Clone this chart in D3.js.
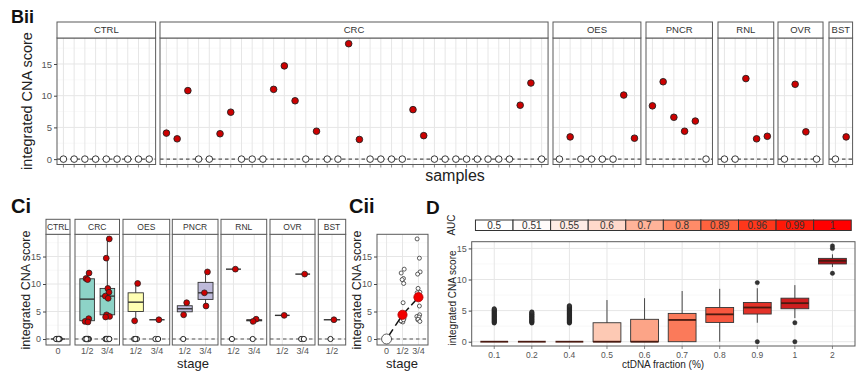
<!DOCTYPE html>
<html lang='en'>
<head>
<meta charset='utf-8'>
<title>integrated CNA score</title>
<script src='https://cdnjs.cloudflare.com/ajax/libs/d3/7.8.5/d3.min.js'></script>
<style>
body { margin:0; background:white; overflow:hidden; }
svg { font-family:'Liberation Sans', Arial, sans-serif; }
</style>
</head>
<body>
<script>
// ---- data: Bii, one score per sample
var cancers = ['CTRL', 'CRC', 'OES', 'PNCR', 'RNL', 'OVR', 'BST'];
var scoreCTRL = [0, 0, 0, 0, 0, 0, 0, 0, 0];
var scoreCRC = [4.1, 3.2, 10.8, 0, 0, 4.0, 7.4, 0, 0, 0, 11.0, 14.7, 9.2, 0, 4.4, 0, 0, 18.2, 3.1, 0, 0, 0, 0, 7.8, 3.7, 0, 0, 0, 0, 0, 0, 0, 0, 8.5, 12.0, 0];
var scoreOES = [0, 3.5, 0, 0, 0, 0, 10.1, 3.3];
var scorePNCR = [8.4, 12.2, 6.6, 4.4, 6.0, 0];
var scoreRNL = [0, 0, 12.7, 3.2, 3.6];
var scoreOVR = [0, 11.8, 4.3, 0];
var scoreBST = [0, 3.5];

// ---- data: Ci, scores split by stage (positive scores, count of zero scores)
var stages = [['0'], ['1/2', '3/4'], ['1/2', '3/4'], ['1/2', '3/4'], ['1/2', '3/4'], ['1/2', '3/4'], ['1/2']];
var posByStage = [
   [[]],
   [[12.0, 11.0, 10.8, 3.7, 3.2, 3.1], [18.2, 14.7, 9.2, 8.5, 7.8, 7.4, 4.4, 4.1, 4.0]],
   [[10.1, 3.3], [3.5]],
   [[6.6, 4.4], [12.2, 8.4, 6.0]],
   [[12.7], [3.6, 3.2]],
   [[4.3], [11.8]],
   [[3.5]]
];
var zerosByStage = [[9], [10, 11], [3, 2], [1, 0], [1, 1], [0, 2], [1]];
var stageFill = ['#d9d9d9', '#8DD3C7', '#FFFFB3', '#BEBADA', '#FB8072', '#80B1D3', '#FDB462'];

// ---- data: Cii
var pooledStages = ['0', '1/2', '3/4'];

// ---- data: D, boxplots by ctDNA fraction
var fractions = ['0.1', '0.2', '0.4', '0.5', '0.6', '0.7', '0.8', '0.9', '1', '2'];
var auc = [0.5, 0.51, 0.55, 0.6, 0.7, 0.8, 0.89, 0.96, 0.99, 1];
var whiskLo = [0, 0, 0, 0, 0, 0, 0, 3.05, 3.8, 12.0];
var boxQ1 = [0, 0, 0, 0, 0, 0, 3.1, 4.45, 5.3, 12.5];
var boxMed = [0, 0, 0, 0, 0, 3.5, 4.4, 5.5, 6.2, 13.0];
var boxQ3 = [0, 0, 0, 3.05, 3.6, 4.55, 5.5, 6.3, 7.0, 13.4];
var whiskHi = [0, 0, 0, 6.7, 7.0, 8.15, 8.5, 8.6, 9.1, 14.05];
var outliers = [
   [3.0, 3.1, 3.2, 3.3, 3.4, 3.5, 3.6, 3.7, 3.8, 3.9, 4.0, 4.1, 4.2, 4.3, 4.4, 4.5, 4.6, 4.7, 4.8, 4.9, 5.0, 5.1, 5.2, 5.3],
   [3.0, 3.1, 3.2, 3.3, 3.4, 3.5, 3.6, 3.7, 3.8, 3.9, 4.0, 4.1, 4.2, 4.3, 4.4, 4.5, 4.6, 4.7, 4.8],
   [3.0, 3.1, 3.2, 3.3, 3.4, 3.5, 3.6, 3.7, 3.8, 3.9, 4.0, 4.1, 4.2, 4.3, 4.4, 4.5, 4.6, 4.7, 4.8, 4.9, 5.0, 5.1, 5.2, 5.3, 5.4, 5.5, 5.6, 5.7, 5.8],
   [], [], [], [],
   [9.5, 0],
   [3.05, 0],
   [15.4, 15.0, 11.0]
];
var boxShade = [0.05, 0.1, 0.15, 0.2, 0.32, 0.45, 0.55, 0.66, 0.74, 0.85];

var yTicks = [0, 5, 10, 15];
var yMinor = [2.5, 7.5, 12.5, 17.5];

var svg = d3.select('body').append('svg').attr('width', 865).attr('height', 388);
svg.append('rect').attr('width', 865).attr('height', 388).attr('fill', 'white');

var EDGE = '#5a5a5a', GRIDMAJ = '#e6e6e6', GRIDMIN = '#f3f3f3', TICKTXT = '#555';

function panelBack(g, x0, x1, y0, y1, y, xs, minorTicks) {
   g.append('rect').attr('x', x0).attr('y', y0).attr('width', x1 - x0).attr('height', y1 - y0).attr('fill', 'white');
   g.selectAll(null).data(minorTicks).enter().append('line')
      .attr('x1', x0).attr('x2', x1).attr('y1', function(d){return y(d);}).attr('y2', function(d){return y(d);})
      .attr('stroke', GRIDMIN).attr('stroke-width', 0.6);
   g.selectAll(null).data(yTicks.filter(function(d){return y(d) > y0;})).enter().append('line')
      .attr('x1', x0).attr('x2', x1).attr('y1', function(d){return y(d);}).attr('y2', function(d){return y(d);})
      .attr('stroke', GRIDMAJ).attr('stroke-width', 1);
   g.selectAll(null).data(xs).enter().append('line')
      .attr('x1', function(d){return d;}).attr('x2', function(d){return d;}).attr('y1', y0).attr('y2', y1)
      .attr('stroke', GRIDMAJ).attr('stroke-width', 1);
}
function dashZero(g, x0, x1, y) {
   g.append('line').attr('x1', x0).attr('x2', x1).attr('y1', y(0)).attr('y2', y(0))
      .attr('stroke', '#555').attr('stroke-width', 1.2).attr('stroke-dasharray', '3.5,3');
}
function border(g, x0, x1, y0, y1) {
   g.append('rect').attr('x', x0).attr('y', y0).attr('width', x1 - x0).attr('height', y1 - y0)
      .attr('fill', 'none').attr('stroke', EDGE).attr('stroke-width', 1);
}
function strip(g, x0, x1, y0, y1, label, size) {
   g.append('rect').attr('x', x0).attr('y', y0).attr('width', x1 - x0).attr('height', y1 - y0)
      .attr('fill', 'white').attr('stroke', EDGE).attr('stroke-width', 1);
   g.append('text').attr('x', (x0 + x1) / 2).attr('y', (y0 + y1) / 2 + size * 0.36)
      .attr('text-anchor', 'middle').attr('font-size', size).attr('fill', '#333').text(label);
}
function yAxis(g, x0, y, size) {
   var ax = g.append('g').attr('transform', 'translate(' + x0 + ',0)')
      .call(d3.axisLeft(y).tickValues(yTicks).tickSize(3).tickPadding(2));
   ax.select('.domain').remove();
   ax.selectAll('line').attr('stroke', '#444');
   ax.selectAll('text').attr('font-size', size).attr('fill', TICKTXT).attr('font-family', null);
}
function vTitle(x, y, txt, size) {
   svg.append('text').attr('transform', 'translate(' + x + ',' + y + ') rotate(-90)')
      .attr('text-anchor', 'middle').attr('font-size', size).attr('fill', '#222').text(txt);
}
function label(x, y, txt, size) {
   svg.append('text').attr('x', x).attr('y', y).attr('font-size', size)
      .attr('font-weight', 'bold').attr('fill', '#111').text(txt);
}

// ================= Bii =================
var bScores = [scoreCTRL, scoreCRC, scoreOES, scorePNCR, scoreRNL, scoreOVR, scoreBST];
var bLeft = [57, 160, 553, 646, 718, 778, 829];
var bStep = 10.72, bStripTop = 22, bTop = 38, bBot = 164.5;
var yB = d3.scaleLinear().domain([-0.85, 19.1]).range([bBot, bTop]);
var gB = svg.append('g');
bScores.forEach(function(vals, i) {
   var x0 = bLeft[i], x1 = x0 + (vals.length + 0.2) * bStep;
   var x = d3.scalePoint().domain(d3.range(vals.length)).range([x0, x1]).padding(0.6);
   var xs = vals.map(function(d, j){return x(j);});
   panelBack(gB, x0, x1, bTop, bBot, yB, xs, yMinor);
   dashZero(gB, x0, x1, yB);
   gB.selectAll(null).data(xs).enter().append('line')
      .attr('x1', function(d){return d;}).attr('x2', function(d){return d;})
      .attr('y1', bBot).attr('y2', bBot + 3).attr('stroke', '#555').attr('stroke-width', 0.7);
   gB.selectAll(null).data(vals).enter().append('circle')
      .attr('cx', function(d, j){return x(j);}).attr('cy', function(d){return yB(d);}).attr('r', 3.3)
      .attr('fill', function(d){return d > 0 ? '#cc0000' : 'white';})
      .attr('stroke', '#222').attr('stroke-width', 0.9);
   border(gB, x0, x1, bTop, bBot);
   strip(gB, x0, x1, bStripTop, bTop, cancers[i], 9.5);
   if (i === 0) yAxis(gB, x0, yB, 9.5);
});
label(11, 23, 'Bii', 18);
vTitle(32, 101, 'integrated CNA score', 14.5);
svg.append('text').attr('x', 455).attr('y', 181).attr('text-anchor', 'middle')
   .attr('font-size', 16).attr('fill', '#222').text('samples');

// ================= Ci =================
var cLeft = [46, 75, 123, 172.3, 221, 270, 318.3];
var cRight = [70, 119.5, 169.7, 218, 266.7, 315, 345.7];
var cStripTop = 219.3, cTop = 234.3, cBot = 345;
var yC = d3.scaleLinear().domain([-1.09, 19.04]).range([cBot, cTop]);
var gC = svg.append('g');
var jit = [-2.2, 1.6, -0.6, 2.4, -1.4, 0.6, 2.0, -2.6, 1.0, -1.0, 2.8];
function boxStats(v) {
   var s = v.slice().sort(d3.ascending);
   return {lo: s[0], q1: d3.quantile(s, 0.25), med: d3.quantile(s, 0.5), q3: d3.quantile(s, 0.75), hi: s[s.length - 1]};
}
function drawBox(g, cx, w, y, st, fill, medColor, medWidth) {
   g.append('line').attr('x1', cx).attr('x2', cx).attr('y1', y(st.lo)).attr('y2', y(st.hi))
      .attr('stroke', '#333').attr('stroke-width', 0.9);
   g.append('rect').attr('x', cx - w / 2).attr('width', w)
      .attr('y', y(st.q3)).attr('height', Math.max(0, y(st.q1) - y(st.q3)))
      .attr('fill', fill).attr('stroke', '#333').attr('stroke-width', 0.9);
   g.append('line').attr('x1', cx - w / 2).attr('x2', cx + w / 2).attr('y1', y(st.med)).attr('y2', y(st.med))
      .attr('stroke', medColor).attr('stroke-width', medWidth);
}
stages.forEach(function(sts, i) {
   var x0 = cLeft[i], x1 = cRight[i];
   var x = d3.scalePoint().domain(sts).range([x0, x1]).padding(0.6);
   var unit = (x1 - x0) / (sts.length + 0.2);
   panelBack(gC, x0, x1, cTop, cBot, yC, sts.map(function(s){return x(s);}), yMinor);
   dashZero(gC, x0, x1, yC);
   sts.forEach(function(s, k) {
      var pos = posByStage[i][k], nz = zerosByStage[i][k];
      var zeros = d3.range(nz).map(function(){return 0;});
      var st = boxStats(pos.length ? pos : zeros);
      drawBox(gC, x(s), unit * 0.72, yC, st, stageFill[i], '#333', 1.4);
      gC.selectAll(null).data(zeros).enter().append('circle')
         .attr('cx', function(d, j){return x(s) + jit[j % jit.length] * 0.7;}).attr('cy', yC(0)).attr('r', 2.6)
         .attr('fill', 'white').attr('stroke', '#222').attr('stroke-width', 1);
      gC.selectAll(null).data(pos).enter().append('circle')
         .attr('cx', function(d, j){return x(s) + jit[(j + 3) % jit.length] * 0.8;}).attr('cy', function(d){return yC(d);}).attr('r', 2.9)
         .attr('fill', '#cc0000').attr('stroke', '#222').attr('stroke-width', 0.8);
      gC.append('text').attr('x', x(s)).attr('y', cBot + 8.5).attr('text-anchor', 'middle')
         .attr('font-size', 9).attr('fill', TICKTXT).text(s);
   });
   border(gC, x0, x1, cTop, cBot);
   strip(gC, x0, x1, cStripTop, cTop, cancers[i], 8.5);
   if (i === 0) yAxis(gC, x0, yC, 9);
});
label(11, 213, 'Ci', 20);
vTitle(30, 290, 'integrated CNA score', 12.5);
svg.append('text').attr('x', 193).attr('y', 368).attr('text-anchor', 'middle')
   .attr('font-size', 13).attr('fill', '#222').text('stage');

// ================= Cii =================
var gK = svg.append('g');
var kx0 = 377, kx1 = 428;
var xK = d3.scalePoint().domain(pooledStages).range([kx0, kx1]).padding(0.6);
panelBack(gK, kx0, kx1, cTop, cBot, yC, pooledStages.map(function(s){return xK(s);}), yMinor);
dashZero(gK, kx0, kx1, yC);
var pooled = pooledStages.map(function(s) {
   var v = [];
   stages.forEach(function(sts, i) {
      var k = sts.indexOf(s);
      if (k < 0) return;
      v = v.concat(posByStage[i][k]);
      if (s === '0') v = v.concat(d3.range(zerosByStage[i][k]).map(function(){return 0;}));
   });
   return {stage: s, vals: v, med: d3.median(v)};
});
pooled.forEach(function(p) {
   if (p.stage === '0') return;
   gK.selectAll(null).data(p.vals).enter().append('circle')
      .attr('cx', function(d, j){return xK(p.stage) + jit[j % jit.length] * 0.6;})
      .attr('cy', function(d){return yC(d);}).attr('r', 2)
      .attr('fill', 'white').attr('stroke', '#333').attr('stroke-width', 0.8);
});
// trend segments between the stage medians
for (var q = 0; q < pooled.length - 1; q++) {
   var ax = xK(pooled[q].stage), ay = yC(pooled[q].med);
   var bx = xK(pooled[q + 1].stage), by = yC(pooled[q + 1].med);
   [[ax, ay, ax + (bx - ax) * 0.4, ay + (by - ay) * 0.4], [bx, by, bx - (bx - ax) * 0.45, by - (by - ay) * 0.45]]
   .forEach(function(s) {
      gK.append('line').attr('x1', s[0]).attr('y1', s[1]).attr('x2', s[2]).attr('y2', s[3])
         .attr('stroke', '#111').attr('stroke-width', 1.5);
   });
}
gK.selectAll(null).data(pooled).enter().append('circle')
   .attr('cx', function(d){return xK(d.stage);}).attr('cy', function(d){return yC(d.med);})
   .attr('r', function(d){return d.med > 0 ? 4.6 : 5;})
   .attr('fill', function(d){return d.med > 0 ? '#f20000' : 'white';})
   .attr('stroke', function(d){return d.med > 0 ? '#b00000' : '#333';}).attr('stroke-width', 0.8);
pooledStages.forEach(function(s) {
   gK.append('text').attr('x', xK(s)).attr('y', cBot + 8.5).attr('text-anchor', 'middle')
      .attr('font-size', 9).attr('fill', TICKTXT).text(s);
});
border(gK, kx0, kx1, cTop, cBot);
yAxis(gK, kx0, yC, 9);
label(349, 213, 'Cii', 20);
vTitle(361, 290, 'integrated CNA score', 12.5);
svg.append('text').attr('x', 402).attr('y', 368).attr('text-anchor', 'middle')
   .attr('font-size', 13).attr('fill', '#222').text('stage');

// ================= D =================
var gD = svg.append('g');
var dx0 = 471.7, dx1 = 855, dTop = 241.7, dBot = 346;
var xD = d3.scalePoint().domain(fractions).range([dx0, dx1]).padding(0.6);
var dStep = xD.step();
var yD = d3.scaleLinear().domain([-0.69, 16.08]).range([dBot, dTop]);
panelBack(gD, dx0, dx1, dTop, dBot, yD, fractions.map(function(f){return xD(f);}), [2.5, 7.5, 12.5]);
var aucColor = d3.scaleLinear().domain([0.5, 1]).range(['white', 'red']).interpolate(d3.interpolateLab);
gD.selectAll(null).data(fractions).enter().append('rect')
   .attr('x', function(f){return xD(f) - dStep / 2;}).attr('width', dStep)
   .attr('y', 220).attr('height', 10.5)
   .attr('fill', function(f, i){return aucColor(auc[i]);}).attr('stroke', '#333').attr('stroke-width', 1);
gD.selectAll(null).data(fractions).enter().append('text')
   .attr('x', function(f){return xD(f);}).attr('y', 229).attr('text-anchor', 'middle')
   .attr('font-size', 10).attr('fill', '#333').text(function(f, i){return String(auc[i]);});
fractions.forEach(function(f, i) {
   var st = {lo: whiskLo[i], q1: boxQ1[i], med: boxMed[i], q3: boxQ3[i], hi: whiskHi[i]};
   drawBox(gD, xD(f), dStep * 0.74, yD, st, d3.interpolateReds(boxShade[i]), '#4a1a10', 1.8);
   gD.selectAll(null).data(outliers[i]).enter().append('circle')
      .attr('cx', xD(f)).attr('cy', function(d){return yD(d);}).attr('r', 2.2)
      .attr('fill', '#333').attr('stroke', '#222').attr('stroke-width', 0.4);
   gD.append('line').attr('x1', xD(f)).attr('x2', xD(f)).attr('y1', dBot).attr('y2', dBot + 3)
      .attr('stroke', '#555').attr('stroke-width', 0.7);
   gD.append('text').attr('x', xD(f)).attr('y', dBot + 11.5).attr('text-anchor', 'middle')
      .attr('font-size', 8.5).attr('fill', TICKTXT).text(f);
});
border(gD, dx0, dx1, dTop, dBot);
yAxis(gD, dx0, yD, 9);
label(426, 214, 'D', 19);
vTitle(455, 225, 'AUC', 10);
vTitle(456, 298, 'integrated CNA score', 10);
svg.append('text').attr('x', 663).attr('y', 368).attr('text-anchor', 'middle')
   .attr('font-size', 10).attr('fill', '#222').text('ctDNA fraction (%)');
</script>
</body>
</html>
